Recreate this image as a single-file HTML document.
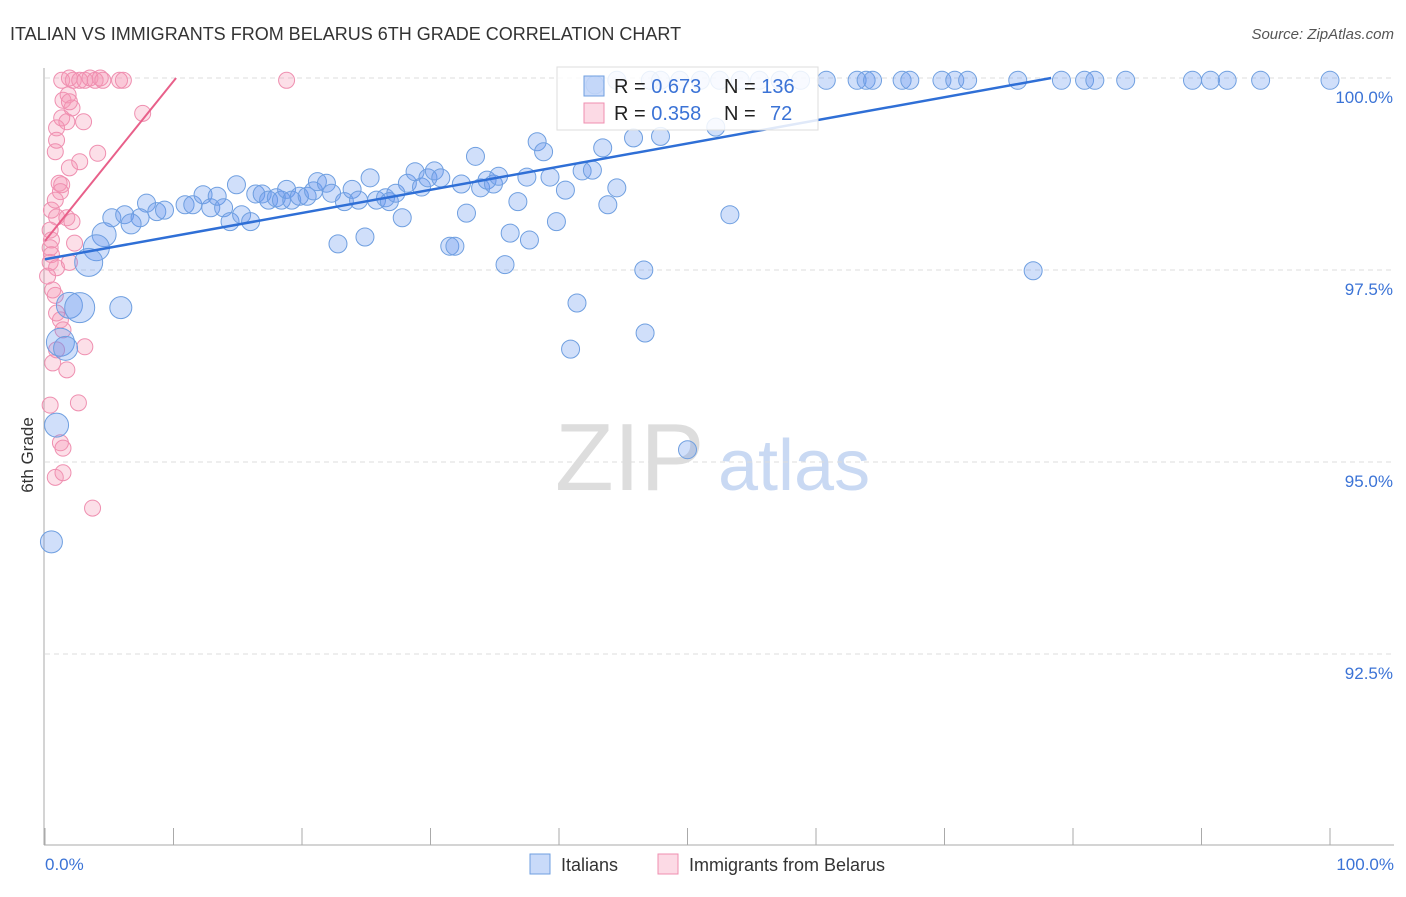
<!DOCTYPE html>
<html><head><meta charset="utf-8"><style>
body{margin:0;background:#fff;font-family:"Liberation Sans",sans-serif;}
svg text{font-family:"Liberation Sans",sans-serif;}
</style></head><body>
<svg id="chart" width="1406" height="892" xmlns="http://www.w3.org/2000/svg">
<text x="10" y="40" font-size="18" fill="#333">ITALIAN VS IMMIGRANTS FROM BELARUS 6TH GRADE CORRELATION CHART</text>
<text x="1394" y="39" font-size="15" fill="#555" text-anchor="end" font-style="italic">Source: ZipAtlas.com</text>
<text transform="translate(33,455) rotate(-90)" font-size="17" fill="#333" text-anchor="middle">6th Grade</text>
<g><text x="555" y="490" font-size="96" fill="#ddd" font-family="Liberation Serif">ZIP</text><text x="718" y="490" font-size="72" fill="#c9d9f3">atlas</text></g>
<g id="grid"></g><g id="axes"></g><g id="pts"></g><g id="lines"></g>
<g>
<rect x="557" y="67" width="261" height="63" fill="rgba(255,255,255,0.85)" stroke="#ddd"/>
<rect x="584" y="76" width="20" height="20" fill="rgba(100,149,237,0.35)" stroke="#6f9fe0"/>
<rect x="584" y="103" width="20" height="20" fill="rgba(245,150,180,0.35)" stroke="#ef8fb0"/>
<text x="614" y="93" font-size="20" fill="#222">R = <tspan fill="#3b73d6">0.673</tspan><tspan x="724">N = </tspan><tspan fill="#3b73d6">136</tspan></text>
<text x="614" y="120" font-size="20" fill="#222">R = <tspan fill="#3b73d6">0.358</tspan><tspan x="724">N = </tspan><tspan fill="#3b73d6" x="770">72</tspan></text>
</g>
<g>
<rect x="530" y="854" width="20" height="20" fill="rgba(100,149,237,0.35)" stroke="#6f9fe0"/>
<text x="561" y="871" font-size="18" fill="#333">Italians</text>
<rect x="658" y="854" width="20" height="20" fill="rgba(245,150,180,0.35)" stroke="#ef8fb0"/>
<text x="689" y="871" font-size="18" fill="#333">Immigrants from Belarus</text>
</g>
</svg>
<script>
const yTicks=[100,97.5,95,92.5];
const yTickLabels=["100.0%","97.5%","95.0%","92.5%"];
const blueX=[42.8,44.5,47.1,47.9,49.4,51.0,52.5,54.1,55.6,57.2,58.8,60.8,63.2,63.9,64.4,66.7,67.3,69.8,70.8,71.8,75.7,79.1,80.9,81.7,84.1,89.3,90.7,92.0,94.6,100,
52.2,38.3,38.8,33.5,43.4,45.8,47.9,14.9,7.9,5.2,6.2,7.4,8.7,9.3,10.9,11.5,12.3,12.9,13.4,13.9,14.4,15.3,16.0,16.4,16.9,17.4,18.0,18.4,18.8,19.2,19.8,20.4,20.9,21.2,21.9,22.3,23.3,23.9,24.4,25.3,25.8,26.5,26.8,27.3,27.8,28.2,28.8,29.3,29.8,30.3,30.8,32.4,32.8,33.9,34.4,34.9,35.3,36.2,36.8,37.5,37.7,39.3,39.8,40.5,41.8,42.6,43.8,44.5,22.8,24.9,31.5,31.9,35.8,46.6,41.4,40.9,46.7,53.3,76.9,50.0,
6.7,4.6,4.0,3.4,1.9,2.7,5.9,1.2,1.6,0.9,0.5];
const blueY=[99.91,99.97,99.97,99.97,99.97,99.97,99.97,99.97,99.97,99.97,99.97,99.97,99.97,99.97,99.97,99.97,99.97,99.97,99.97,99.97,99.97,99.97,99.97,99.97,99.97,99.97,99.97,99.97,99.97,99.97,
99.36,99.17,99.04,98.98,99.09,99.22,99.24,98.61,98.37,98.18,98.22,98.18,98.26,98.28,98.35,98.35,98.48,98.31,98.46,98.31,98.13,98.22,98.13,98.49,98.49,98.41,98.44,98.41,98.55,98.41,98.46,98.46,98.53,98.65,98.63,98.50,98.39,98.55,98.41,98.70,98.41,98.44,98.39,98.50,98.18,98.63,98.78,98.58,98.70,98.79,98.70,98.62,98.24,98.57,98.67,98.62,98.72,97.98,98.39,98.71,97.89,98.71,98.13,98.54,98.79,98.80,98.35,98.57,97.84,97.93,97.81,97.81,97.57,97.50,97.07,96.47,96.68,98.22,97.49,95.16,
98.10,97.96,97.79,97.60,97.04,97.01,97.01,96.56,96.48,95.48,93.96];
const blueSize=[];
blueX.forEach((v,i)=>blueSize.push(i>=blueX.length-11?[10,12,13,14,13,15,11,14,12,12,11][i-(blueX.length-11)]:9));
const pinkX=[1.3,1.9,2.2,2.7,3.1,3.5,3.9,4.3,4.5,5.8,6.1,18.8,1.4,1.8,2.1,1.9,1.3,3.0,1.7,0.9,0.9,0.8,4.1,2.7,1.9,1.1,1.3,1.2,0.5,0.9,1.7,2.1,2.3,0.4,0.5,0.4,0.5,0.4,0.9,1.9,0.8,0.6,0.9,1.2,1.4,0.9,3.1,0.6,1.7,0.4,2.6,1.2,1.4,0.8,1.4,3.7,0.2,7.6,0.8];
const pinkY=[99.97,100,99.97,99.97,99.97,100,99.97,100,99.97,99.97,99.97,99.97,99.71,99.78,99.61,99.69,99.48,99.43,99.43,99.35,99.19,99.04,99.02,98.91,98.83,98.63,98.61,98.52,98.28,98.19,98.18,98.13,97.85,98.02,97.89,97.79,97.70,97.60,97.53,97.60,97.17,97.24,96.94,96.85,96.72,96.46,96.50,96.29,96.20,95.74,95.77,95.25,95.18,94.80,94.86,94.40,97.42,99.54,98.41];
const blueLine=[[0,97.64],[78.3,100]];
const pinkLine=[[0,97.88],[10.2,100]];
const X0=45,X1=1330,Yt=78,PX=76.8;
const sx=v=>X0+(X1-X0)*v/100, sy=v=>Yt+(100-v)*PX;
const NS="http://www.w3.org/2000/svg";
function mk(t,a,p){const e=document.createElementNS(NS,t);for(const k in a)e.setAttribute(k,a[k]);p.appendChild(e);return e;}
const grid=document.getElementById('grid'),axes=document.getElementById('axes');
yTicks.forEach((t,i)=>{
 const l=mk('line',{x1:45,x2:1394,y1:sy(t),y2:sy(t),stroke:'#ddd','stroke-dasharray':'5,4'},grid);
 
 
 const tx=mk('text',{x:1393,y:sy(t)+25,'font-size':17,fill:'#3b73d6','text-anchor':'end'},axes);tx.textContent=yTickLabels[i];
 
 
});
const ax=mk('line',{x1:44,x2:44,y1:68,y2:845,stroke:'#aaa'},axes);


const bx=mk('line',{x1:44,x2:1394,y1:845,y2:845,stroke:'#aaa'},axes);


for(let i=0;i<=10;i++){const t=mk('line',{x1:sx(i*10),x2:sx(i*10),y1:828,y2:845,stroke:'#aaa'},axes);
 
 }
const l0=mk('text',{x:45,y:870,'font-size':17,fill:'#3b73d6'},axes);l0.textContent='0.0%';


const l1=mk('text',{x:1394,y:870,'font-size':17,fill:'#3b73d6','text-anchor':'end'},axes);l1.textContent='100.0%';


const pts=document.getElementById('pts');
pinkX.forEach((v,i)=>{const c=mk('circle',{cx:sx(v),cy:sy(pinkY[i]),r:8,fill:'rgba(245,150,180,0.3)',stroke:'#ef8fb0','stroke-width':1},pts);
 
 });
blueX.forEach((v,i)=>{const c=mk('circle',{cx:sx(v),cy:sy(blueY[i]),r:blueSize[i],fill:'rgba(100,149,237,0.3)',stroke:'#6f9fe0','stroke-width':1},pts);
 
 });
const lines=document.getElementById('lines');
const bl=mk('line',{x1:sx(blueLine[0][0]),y1:sy(blueLine[0][1]),x2:sx(blueLine[1][0]),y2:sy(blueLine[1][1]),stroke:'#2f6fd6','stroke-width':2.5},lines);


const pl=mk('line',{x1:sx(pinkLine[0][0]),y1:sy(pinkLine[0][1]),x2:sx(pinkLine[1][0]),y2:sy(pinkLine[1][1]),stroke:'#e8608a','stroke-width':2},lines);


</script>
</body></html>
